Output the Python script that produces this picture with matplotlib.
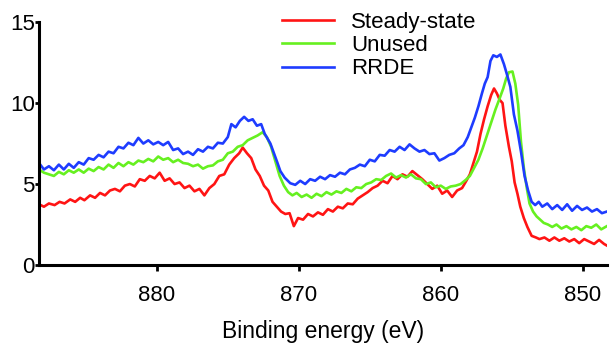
import matplotlib.pyplot as plt

plt.rcParams['font.family'] = ['Liberation Sans', 'DejaVu Sans']

# Binding energy (eV) / intensity
be_steady = [888.3, 887.95, 887.6, 887.2, 886.85, 886.5, 886.1, 885.75, 885.4, 885.1,
             884.7, 884.35, 884.0, 883.65, 883.3, 882.95, 882.6, 882.25, 881.9, 881.55,
             881.2, 880.85, 880.5, 880.15, 879.8, 879.45, 879.1, 878.75, 878.4, 878.05,
             877.7, 877.35, 877.0, 876.65, 876.3, 875.95, 875.6, 875.25, 874.9, 874.55,
             874.2, 873.95, 873.65, 873.35, 873.05, 872.75, 872.45, 872.15, 871.85, 871.55,
             871.25, 870.95, 870.65, 870.35, 870.05, 869.7, 869.35, 869.0, 868.65, 868.3,
             867.95, 867.6, 867.25, 866.9, 866.55, 866.2, 865.85, 865.5, 865.15, 864.8,
             864.45, 864.1, 863.75, 863.4, 863.05, 862.7, 862.35, 862.0, 861.65, 861.3,
             860.95, 860.6, 860.25, 859.9, 859.55, 859.2, 858.85, 858.5, 858.2, 857.95,
             857.7, 857.45, 857.2, 856.95, 856.7, 856.45, 856.25, 856.05, 855.85, 855.65,
             855.45, 855.2, 855.0, 854.8, 854.6, 854.4, 854.15, 853.9, 853.6, 853.3,
             853.05, 852.7, 852.35, 852.0, 851.65, 851.3, 850.95, 850.6, 850.25, 849.9,
             849.55, 849.2, 848.85, 848.5, 848.3]
steady = [3.75, 3.6, 3.8, 3.7, 3.9, 3.8, 4.05, 3.9, 4.15, 4.0,
          4.3, 4.15, 4.45, 4.3, 4.6, 4.7, 4.55, 4.9, 5.0, 4.85,
          5.3, 5.2, 5.5, 5.35, 5.7, 5.2, 5.35, 5.0, 5.1, 4.75,
          4.9, 4.55, 4.7, 4.3, 4.75, 5.0, 5.5, 5.6, 6.2, 6.6,
          6.9, 7.25, 6.9, 6.6, 5.9, 5.5, 4.9, 4.6, 3.9, 3.6,
          3.3, 3.15, 3.2, 2.4, 2.9, 2.8, 3.15, 3.0, 3.25, 3.1,
          3.45, 3.3, 3.6, 3.5, 3.8, 3.75, 4.1, 4.3, 4.5, 4.75,
          4.9, 5.2, 5.05, 5.5, 5.3, 5.6, 5.45, 5.8, 5.55, 5.3,
          5.0, 4.7, 4.9, 4.4, 4.6, 4.2, 4.6, 4.75, 5.2, 5.6,
          6.3, 7.0, 8.1, 9.0, 9.8, 10.5, 10.9, 10.6, 10.2, 10.0,
          8.6, 7.3, 6.4, 5.1, 4.4, 3.6, 2.9, 2.35, 1.8, 1.7,
          1.6, 1.7, 1.5, 1.7, 1.5, 1.65, 1.45, 1.6, 1.35, 1.6,
          1.45, 1.3, 1.55, 1.3, 1.2]

be_unused = [888.3, 887.95, 887.6, 887.25, 886.9, 886.55, 886.2, 885.85, 885.5, 885.15,
             884.8, 884.45, 884.1, 883.75, 883.4, 883.05, 882.7, 882.35, 882.0, 881.65,
             881.3, 880.95, 880.6, 880.25, 879.9, 879.55, 879.2, 878.85, 878.5, 878.15,
             877.8, 877.45, 877.1, 876.75, 876.4, 876.05, 875.7, 875.35, 875.0, 874.65,
             874.3, 873.95, 873.6, 873.25, 872.9, 872.55, 872.25, 871.95, 871.65, 871.35,
             871.05, 870.75, 870.45, 870.15, 869.8, 869.45, 869.1, 868.75, 868.4, 868.05,
             867.7, 867.35, 867.0, 866.65, 866.3, 865.95, 865.6, 865.25, 864.9, 864.55,
             864.2, 863.85, 863.5, 863.15, 862.8, 862.45, 862.1, 861.75, 861.4, 861.05,
             860.7, 860.35, 860.0, 859.65, 859.3, 858.95, 858.6, 858.25, 857.95, 857.65,
             857.35, 857.05, 856.75, 856.45, 856.15, 855.85, 855.6, 855.4, 855.2, 854.95,
             854.75, 854.55, 854.35, 854.15, 853.95, 853.75, 853.5, 853.25, 853.0, 852.75,
             852.45, 852.15, 851.85, 851.5, 851.15, 850.8, 850.45, 850.1, 849.75, 849.4,
             849.05, 848.7, 848.3]
unused = [5.9, 5.7, 5.6, 5.5, 5.75, 5.6, 5.85, 5.7, 5.9, 5.7,
          5.95, 5.8, 6.05, 5.9, 6.2, 6.0, 6.3, 6.1, 6.35, 6.2,
          6.45, 6.35, 6.55, 6.4, 6.7, 6.5, 6.6, 6.35, 6.5, 6.3,
          6.25, 6.1, 6.2, 5.95, 6.1, 6.15, 6.4, 6.5, 6.9, 7.0,
          7.3, 7.4, 7.7, 7.85, 8.0, 8.2, 7.9, 7.3, 6.4, 5.5,
          4.9, 4.5, 4.3, 4.45, 4.2, 4.35, 4.15, 4.4, 4.25, 4.5,
          4.35, 4.55, 4.45, 4.7, 4.55, 4.8, 4.75, 5.0, 5.1, 5.3,
          5.25, 5.5, 5.65, 5.4, 5.55, 5.4, 5.6, 5.35, 5.3, 5.0,
          5.1, 4.8, 4.9, 4.7, 4.85, 4.9, 5.0, 5.25, 5.5, 6.0,
          6.5, 7.2, 8.0, 8.8, 9.6, 10.3, 10.9, 11.5, 11.9, 11.95,
          11.2, 9.9, 7.6, 6.0, 4.8, 3.8, 3.3, 3.0, 2.8, 2.6,
          2.5, 2.35, 2.5, 2.25, 2.4, 2.2, 2.35, 2.15, 2.4, 2.3,
          2.5, 2.2, 2.4]

be_rrde = [888.3, 887.95, 887.6, 887.25, 886.9, 886.55, 886.2, 885.85, 885.5, 885.15,
           884.8, 884.45, 884.1, 883.75, 883.4, 883.05, 882.7, 882.35, 882.0, 881.65,
           881.3, 880.95, 880.6, 880.25, 879.9, 879.55, 879.2, 878.85, 878.5, 878.15,
           877.8, 877.45, 877.1, 876.75, 876.4, 876.05, 875.7, 875.35, 875.0, 874.75,
           874.45, 874.15, 873.85, 873.55, 873.25, 872.95, 872.65, 872.4, 872.0, 871.75,
           871.5, 871.3, 871.0, 870.6, 870.25, 869.9, 869.55, 869.2, 868.85, 868.5,
           868.15, 867.8, 867.45, 867.1, 866.75, 866.4, 866.05, 865.7, 865.35, 865.0,
           864.65, 864.3, 863.95, 863.6, 863.25, 862.9, 862.55, 862.2, 861.85, 861.5,
           861.15, 860.8, 860.45, 860.1, 859.75, 859.4, 859.05, 858.7, 858.4, 858.1,
           857.85, 857.6, 857.35, 857.1, 856.9, 856.7, 856.5, 856.3, 856.05, 855.8,
           855.55, 855.35, 855.1, 854.85, 854.6, 854.35, 854.1, 853.85, 853.6, 853.35,
           853.1, 852.85, 852.5, 852.15, 851.8, 851.45, 851.1, 850.75, 850.4, 850.05,
           849.7, 849.35, 849.0, 848.65, 848.3]
rrde = [6.3, 5.9, 6.1, 5.85, 6.2, 5.9, 6.25, 6.0, 6.35, 6.2,
        6.6, 6.5, 6.8, 6.65, 7.0, 6.9, 7.3, 7.2, 7.55, 7.4,
        7.85, 7.5, 7.7, 7.45, 7.6, 7.4, 7.6, 7.1, 7.2, 6.85,
        7.0, 6.8, 7.15, 7.0, 7.3, 7.2, 7.55, 7.5, 7.9, 8.7,
        8.5, 8.9, 9.15, 8.9, 9.0, 8.6, 8.7, 8.1, 7.5, 6.9,
        6.3, 5.8, 5.4, 5.05, 4.95, 5.2, 5.0, 5.3, 5.2, 5.45,
        5.3, 5.55, 5.45, 5.7, 5.6, 5.9, 6.0, 6.2, 6.1, 6.5,
        6.4, 6.8, 6.75, 7.1, 7.0, 7.3, 7.1, 7.45, 7.2, 7.0,
        7.1, 6.85, 6.9, 6.45, 6.6, 6.8, 6.9, 7.2, 7.4, 7.9,
        8.5, 9.1, 9.8, 10.6, 11.2, 11.6, 12.6, 12.95, 12.85, 13.0,
        12.4, 11.8, 11.0, 9.3, 8.3, 7.0, 5.5, 4.6, 3.9, 3.7,
        3.9, 3.6, 3.8, 3.45, 3.7, 3.4, 3.75, 3.35, 3.65, 3.4,
        3.55, 3.3, 3.45, 3.2, 3.3]

fig = plt.figure(figsize=(6.1, 3.48), dpi=100)
ax = fig.add_axes([0.0639, 0.2385, 0.931, 0.698])

ax.plot(be_steady, steady, color='#ff1414', lw=1.9, label='Steady-state')
ax.plot(be_unused, unused, color='#66f020', lw=1.9, label='Unused')
ax.plot(be_rrde, rrde, color='#1e3cff', lw=1.9, label='RRDE')

ax.set_xlim(888.3, 848.3)
ax.set_ylim(0, 15)
ax.set_xticks([880, 870, 860, 850])
ax.set_yticks([0, 5, 10, 15])
for s in ['top', 'right']:
    ax.spines[s].set_visible(False)
for s in ['left', 'bottom']:
    ax.spines[s].set_linewidth(2.2)
ax.tick_params(axis='x', length=4, width=2, labelsize=16, pad=10.5)
ax.tick_params(axis='y', length=3, width=2, labelsize=16, pad=0)
ax.set_xlabel('Binding energy (eV)', fontsize=16.5, labelpad=10)

ax.legend(loc='upper left', bbox_to_anchor=(0.4123, 1.078), frameon=False,
          fontsize=16, handlelength=2.35, handletextpad=0.75,
          labelspacing=0.1, borderaxespad=0)

fig.savefig('out.png', dpi=100)
